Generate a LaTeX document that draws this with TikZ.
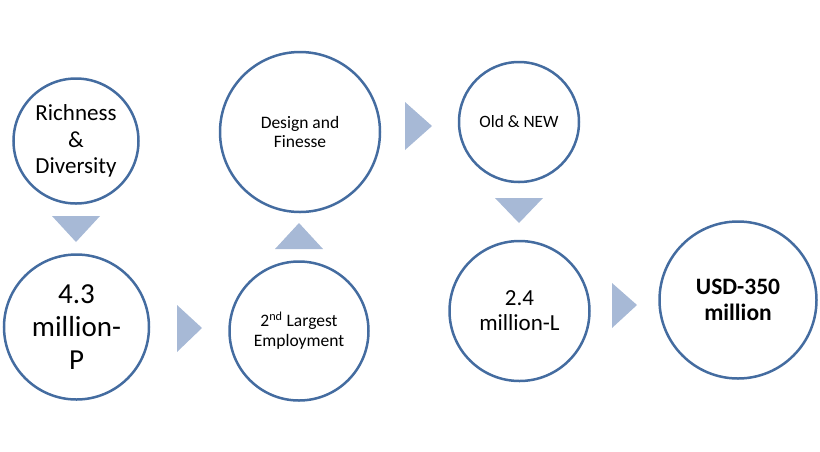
\documentclass[tikz,border=0pt]{standalone}
\usepackage{fontspec}
\setmainfont{Carlito}
\definecolor{ringc}{RGB}{68,108,160}
\definecolor{tric}{RGB}{167,185,214}
\begin{document}
\begin{tikzpicture}[x=1pt,y=-1pt,
  ringnode/.style={circle,draw=ringc,line width=2.5pt,minimum size=#1,inner sep=0pt,align=center,text=black},
  chevron/.style={fill=tric,draw=none}]
\useasboundingbox (0,0) rectangle (820,451);
\node[ringnode=125pt,font=\fontsize{23}{26.5}\selectfont] (a) at (76,141) {Richness\\\&\\Diversity};
\node[ringnode=145pt,font=\fontsize{29}{33}\selectfont] (b) at (76.5,327) {4.3\\million-\\P};
\node[ringnode=139pt,font=\fontsize{17.5}{20}\selectfont] (c) at (299,331) {2\textsuperscript{nd} Largest\\Employment};
\node[ringnode=160pt,font=\fontsize{17.5}{19.5}\selectfont] (d) at (300,132) {Design and\\Finesse};
\node[ringnode=120pt,font=\fontsize{17.3}{20}\selectfont] (e) at (519,122) {Old \& NEW};
\node[ringnode=140pt,font=\fontsize{23}{25}\selectfont] (f) at (519.5,311) {2.4\\million-L};
\node[ringnode=157pt,font=\bfseries\fontsize{23.5}{26}\selectfont] (g) at (738,300) {USD-350\\million};
% chevron connectors
\fill[chevron] (52,216) -- (100,216) -- (76,242) -- cycle;
\fill[chevron] (177,305) -- (177,352) -- (202,328) -- cycle;
\fill[chevron] (275,249) -- (323,249) -- (299,223) -- cycle;
\fill[chevron] (405,102) -- (405,150) -- (432,126) -- cycle;
\fill[chevron] (495,198) -- (543,198) -- (519,223) -- cycle;
\fill[chevron] (612,283) -- (612,328) -- (637,305) -- cycle;
\end{tikzpicture}
\end{document}
